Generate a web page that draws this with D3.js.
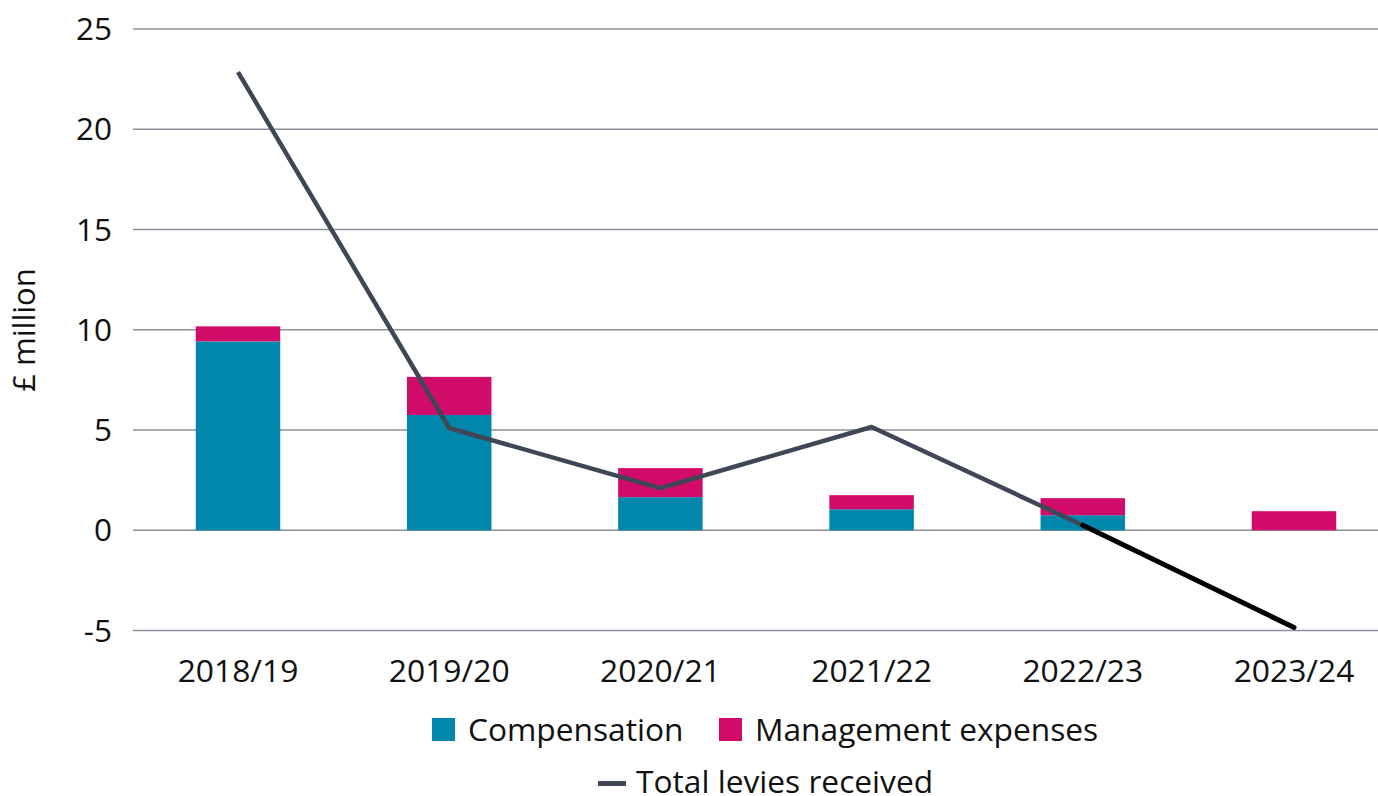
<!DOCTYPE html>
<html><head><meta charset="utf-8">
<script src="https://cdn.jsdelivr.net/npm/d3@7"></script>
<style>body{margin:0;background:#fff}svg{display:block;font-family:"Open Sans",sans-serif}</style>
</head><body><svg id="c" width="1378" height="796"></svg>
<script>
const categories = ["2018/19","2019/20","2020/21","2021/22","2022/23","2023/24"];
const compensation = [9.42, 5.75, 1.65, 1.05, 0.75, 0];
const management = [0.75, 1.9, 1.45, 0.7, 0.85, 0.95];
const levies = [22.85, 5.1, 2.1, 5.15, 0.25, -4.85];
const yTicks = [-5, 0, 5, 10, 15, 20, 25];

const svg = d3.select("#c");
const x = d3.scaleBand().domain(categories).range([132.4, 1399.6]).paddingInner(0.6).paddingOuter(0.3);
const y = d3.scaleLinear().domain([-5, 25]).range([630.5, 29]);
const teal = "#0087AB", mag = "#D10B69", lineC = "#3F4757";

// gridlines
svg.append("g").selectAll("line").data(yTicks).join("line")
  .attr("x1", 133).attr("x2", 1378).attr("y1", d => y(d)).attr("y2", d => y(d))
  .attr("stroke", "#8C909C").attr("stroke-width", 1.4);
// tick labels
svg.append("g").selectAll("text").data(yTicks).join("text")
  .attr("x", 112).attr("y", d => y(d)).attr("dy", "0.35em").attr("text-anchor", "end")
  .attr("font-size", 31.5).attr("fill", "#111").text(d => d);
// y label
svg.append("text").attr("transform", "translate(35,330) rotate(-90)").attr("text-anchor", "middle")
  .attr("font-size", 31).attr("fill", "#111").text("£ million");
// x labels
svg.append("g").selectAll("text").data(categories).join("text")
  .attr("x", d => x(d) + x.bandwidth()/2).attr("y", 682).attr("text-anchor", "middle")
  .attr("font-size", 31.8).attr("fill", "#111").text(d => d);

// bars
const stack = categories.map((c, i) => ({c, comp: compensation[i], mg: management[i]}));
svg.append("g").selectAll("rect").data(stack).join("rect")
  .attr("x", d => x(d.c)).attr("width", x.bandwidth())
  .attr("y", d => y(d.comp)).attr("height", d => y(0) - y(d.comp)).attr("fill", teal);
svg.append("g").selectAll("rect").data(stack).join("rect")
  .attr("x", d => x(d.c)).attr("width", x.bandwidth())
  .attr("y", d => y(d.comp + d.mg)).attr("height", d => y(d.comp) - y(d.comp + d.mg)).attr("fill", mag);

// line
const pts = categories.map((c, i) => [x(c) + x.bandwidth()/2, y(levies[i])]);
const line = d3.line();
svg.append("path").attr("d", line(pts.slice(0, 5))).attr("fill", "none")
  .attr("stroke", lineC).attr("stroke-width", 4.5).attr("stroke-linejoin", "round");
svg.append("path").attr("d", line(pts.slice(4))).attr("fill", "none")
  .attr("stroke", "#000").attr("stroke-width", 5).attr("stroke-linecap", "round");

// legend
const lg = svg.append("g").attr("font-size", 31.7).attr("fill", "#111");
lg.append("rect").attr("x", 432).attr("y", 718).attr("width", 23).attr("height", 23).attr("fill", teal);
lg.append("text").attr("x", 468).attr("y", 741).text("Compensation");
lg.append("rect").attr("x", 719).attr("y", 718).attr("width", 23).attr("height", 23).attr("fill", mag);
lg.append("text").attr("x", 755).attr("y", 741).text("Management expenses");
lg.append("rect").attr("x", 598).attr("y", 781).attr("width", 28).attr("height", 5).attr("fill", lineC);
lg.append("text").attr("x", 636).attr("y", 793).text("Total levies received");
</script></body></html>
